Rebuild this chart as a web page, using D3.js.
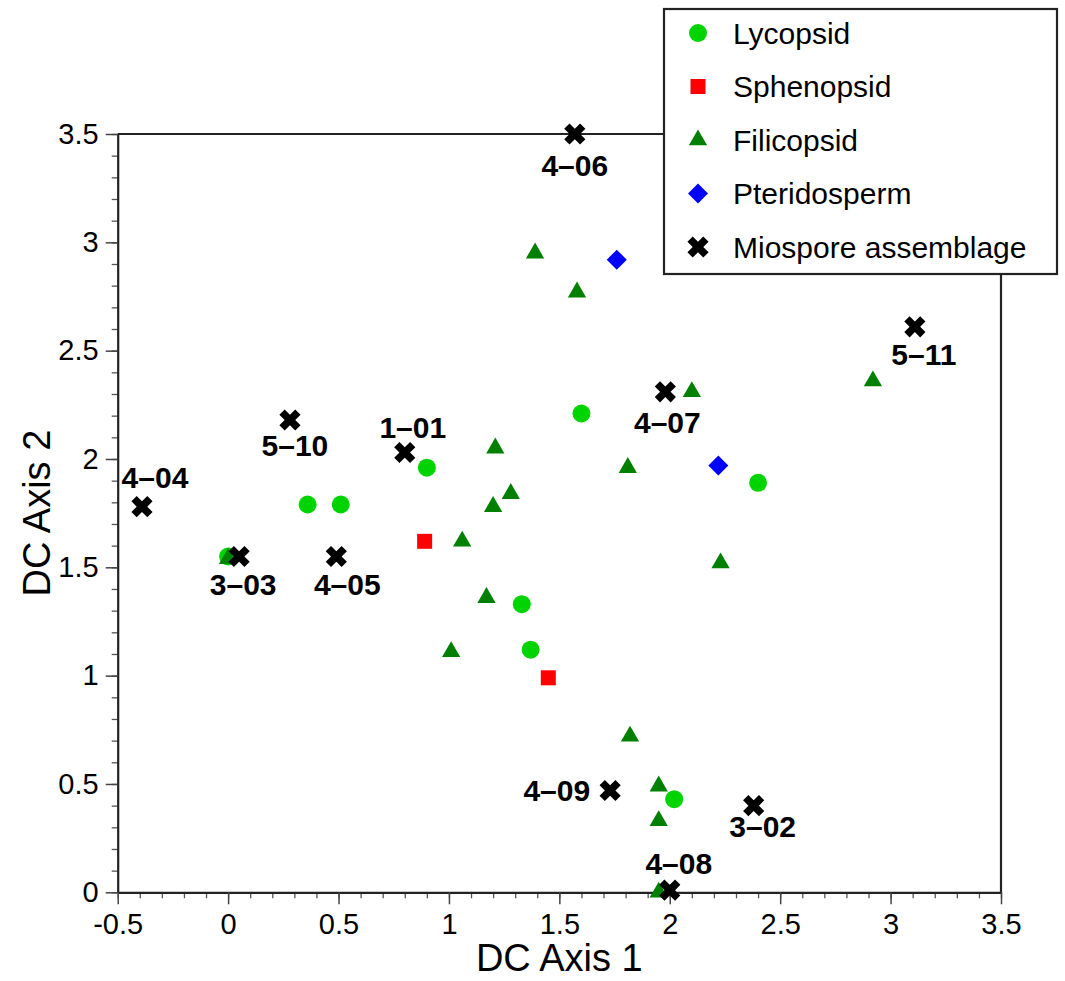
<!DOCTYPE html>
<html>
<head>
<meta charset="utf-8">
<script src="https://cdn.jsdelivr.net/npm/d3@7"></script>
<style>
  body { margin: 0; background: #fff; }
  svg { display: block; font-family: "Liberation Sans", Arial, Helvetica, sans-serif; }
</style>
</head>
<body>
<svg width="1065" height="981"></svg>
<script>
// values
var lycoX = [0.00, 0.36, 0.51, 0.90, 1.33, 1.37, 1.60, 2.40, 2.02];
var lycoY = [1.55, 1.79, 1.79, 1.96, 1.33, 1.12, 2.21, 1.89, 0.43];

var sphenoX = [0.89, 1.45];
var sphenoY = [1.62, 0.99];

var filiX = [0.00, 1.39, 1.58, 2.10, 1.21, 1.28, 1.20, 1.81, 1.06, 1.17, 1.01, 1.82, 1.95, 1.95, 1.95, 2.23, 2.92];
var filiY = [1.54, 2.95, 2.77, 2.31, 2.05, 1.84, 1.78, 1.96, 1.62, 1.36, 1.11, 0.72, 0.49, 0.33, 0.00, 1.52, 2.36];

var pteriX = [1.76, 2.22];
var pteriY = [2.92, 1.97];

var mioNames = ["4–06", "5–11", "4–07", "5–10", "1–01", "4–04", "3–03", "4–05", "4–09", "3–02", "4–08"];
var mioX = [1.57, 3.11, 1.98, 0.28, 0.80, -0.39, 0.05, 0.49, 1.73, 2.38, 2.00];
var mioY = [3.50, 2.61, 2.31, 2.18, 2.03, 1.78, 1.55, 1.55, 0.47, 0.40, 0.01];

var legendNames = ["Lycopsid", "Sphenopsid", "Filicopsid", "Pteridosperm", "Miospore assemblage"];

var xTicks = [-0.5, 0, 0.5, 1, 1.5, 2, 2.5, 3, 3.5];
var yTicks = [0, 0.5, 1, 1.5, 2, 2.5, 3, 3.5];

// where each sample label sits relative to its marker (pixels)
var labelPlace = {
  "4–06": [0, 31, "middle"], "5–11": [9, 27, "middle"], "4–07": [2, 30, "middle"],
  "5–10": [5, 25, "middle"], "1–01": [8, -25, "middle"], "4–04": [13, -29, "middle"],
  "3–03": [4, 28, "middle"], "4–05": [11, 28, "middle"], "4–09": [-20, 0, "end"],
  "3–02": [9, 21, "middle"], "4–08": [9, -27, "middle"]
};

var svg = d3.select("svg");

var x = d3.scaleLinear().domain([-0.5, 3.5]).range([117.7, 1001]);
var y = d3.scaleLinear().domain([0, 3.5]).range([892.3, 134]);

var minorX = d3.range(-5, 36).map(function(i) { return i / 10; });
var minorY = d3.range(0, 36).map(function(i) { return i / 10; });

// minor ticks
svg.append("g")
    .attr("transform", "translate(0," + y(0) + ")")
    .call(d3.axisBottom(x).tickValues(minorX).tickSize(6).tickFormat(""))
    .call(function(g) { g.select(".domain").remove(); });
svg.append("g")
    .attr("transform", "translate(" + x(-0.5) + ",0)")
    .call(d3.axisLeft(y).tickValues(minorY).tickSize(6).tickFormat(""))
    .call(function(g) { g.select(".domain").remove(); });

svg.selectAll(".tick line").attr("stroke", "#555").attr("stroke-width", 1.3);

// major axes
var xAxis = svg.append("g")
    .attr("transform", "translate(0," + y(0) + ")")
    .call(d3.axisBottom(x).tickValues(xTicks).tickSize(12).tickSizeOuter(0).tickPadding(9)
        .tickFormat(function(d) { return String(d); }));
var yAxis = svg.append("g")
    .attr("transform", "translate(" + x(-0.5) + ",0)")
    .call(d3.axisLeft(y).tickValues(yTicks).tickSize(12).tickSizeOuter(0).tickPadding(7)
        .tickFormat(function(d) { return String(d); }));

[xAxis, yAxis].forEach(function(g) {
  g.select(".domain").attr("stroke", "#222").attr("stroke-width", 2.2);
  g.selectAll(".tick line").attr("stroke", "#444").attr("stroke-width", 1.5);
  g.selectAll(".tick text").attr("font-size", 29).attr("fill", "#000")
    .attr("font-family", "Liberation Sans, Arial, sans-serif");
});

// top and right frame
svg.append("path")
    .attr("d", "M" + x(-0.5) + "," + y(3.5) + "H" + x(3.5) + "V" + y(0))
    .attr("fill", "none").attr("stroke", "#222").attr("stroke-width", 2.2);

// axis titles
svg.append("text")
    .attr("x", (x(-0.5) + x(3.5)) / 2).attr("y", 971)
    .attr("text-anchor", "middle").attr("font-size", 38)
    .text("DC Axis 1");
svg.append("text")
    .attr("transform", "translate(50," + (y(0) + y(3.5)) / 2 + ") rotate(-90)")
    .attr("text-anchor", "middle").attr("font-size", 38)
    .text("DC Axis 2");

var series = [
  { xs: lycoX, ys: lycoY, type: d3.symbolCircle, size: 254, color: "#00d400", rot: 0 },
  { xs: sphenoX, ys: sphenoY, type: d3.symbolSquare, size: 225, color: "#ff0000", rot: 0 },
  { xs: filiX, ys: filiY, type: d3.symbolTriangle, size: 145, color: "#008000", rot: 0 },
  { xs: pteriX, ys: pteriY, type: d3.symbolSquare, size: 200, color: "#0000ff", rot: 45 },
  { xs: mioX, ys: mioY, type: d3.symbolCross, size: 280, color: "#000000", rot: 45 }
];

series.forEach(function(s) {
  var path = d3.symbol().type(s.type).size(s.size)();
  svg.append("g").selectAll("path")
    .data(d3.range(s.xs.length))
    .join("path")
      .attr("d", path)
      .attr("fill", s.color)
      .attr("transform", function(i) {
        return "translate(" + x(s.xs[i]) + "," + y(s.ys[i]) + ") rotate(" + s.rot + ")";
      });
});

// sample labels
svg.append("g").selectAll("text")
  .data(mioNames)
  .join("text")
    .attr("x", function(d, i) { return x(mioX[i]) + labelPlace[d][0]; })
    .attr("y", function(d, i) { return y(mioY[i]) + labelPlace[d][1]; })
    .attr("dy", "0.36em")
    .attr("text-anchor", function(d) { return labelPlace[d][2]; })
    .attr("font-size", 30).attr("font-weight", "bold")
    .text(function(d) { return d; });

// legend
var legend = svg.append("g");
legend.append("rect")
    .attr("x", 664).attr("y", 9).attr("width", 393).attr("height", 265)
    .attr("fill", "#fff").attr("stroke", "#222").attr("stroke-width", 2.2);

legendNames.forEach(function(name, i) {
  var s = series[i];
  var cy = 33 + i * 53.5;
  legend.append("path")
    .attr("d", d3.symbol().type(s.type).size(s.size)())
    .attr("fill", s.color)
    .attr("transform", "translate(698," + cy + ") rotate(" + s.rot + ")");
  legend.append("text")
    .attr("x", 733).attr("y", cy).attr("dy", "0.36em")
    .attr("font-size", 30)
    .text(name);
});
</script>
</body>
</html>
